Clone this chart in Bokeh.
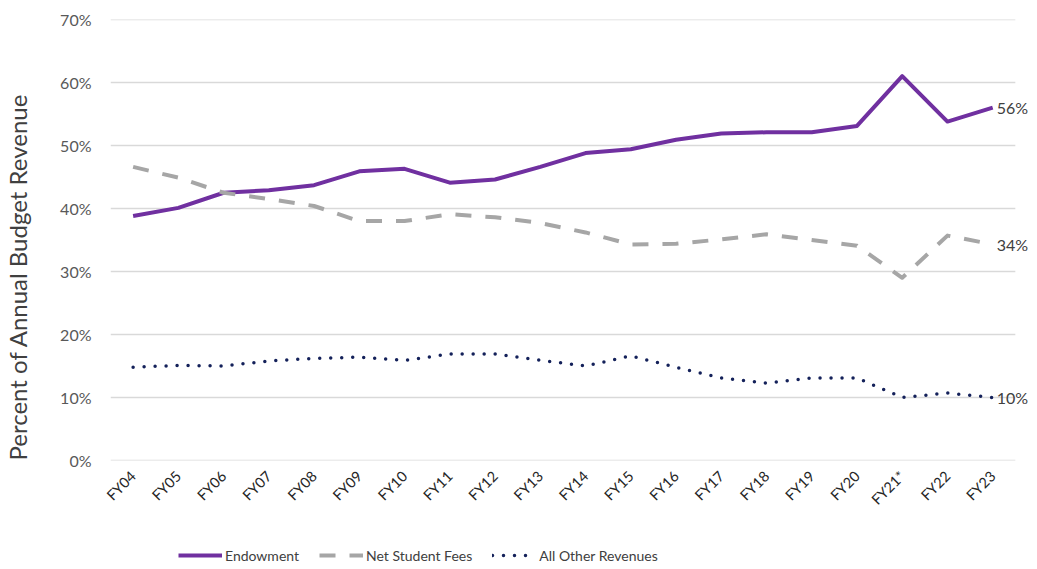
from bokeh.plotting import figure
from bokeh.layouts import column, row
from bokeh.models import (Range1d, Legend, LegendItem, Label,
                          CustomJSTickFormatter, FixedTicker)
from bokeh.embed import file_html
from bokeh.resources import INLINE
import math

years = ["FY04", "FY05", "FY06", "FY07", "FY08", "FY09", "FY10", "FY11", "FY12", "FY13",
         "FY14", "FY15", "FY16", "FY17", "FY18", "FY19", "FY20", "FY21*", "FY22", "FY23"]
endowment = [38.8, 40.1, 42.5, 42.9, 43.7, 45.9, 46.3, 44.1, 44.6, 46.6,
             48.8, 49.4, 50.9, 51.9, 52.1, 52.1, 53.1, 61.0, 53.8, 56.0]
student_fees = [46.6, 44.9, 42.5, 41.5, 40.4, 38.0, 38.0, 39.1, 38.6, 37.7,
                36.2, 34.3, 34.4, 35.1, 35.9, 35.0, 34.1, 29.0, 35.7, 34.3]
other = [14.8, 15.1, 15.0, 15.8, 16.2, 16.4, 15.9, 16.9, 16.9, 15.9,
         15.0, 16.6, 14.8, 13.1, 12.3, 13.1, 13.1, 10.0, 10.7, 10.0]
y_ticks = [0, 10, 20, 30, 40, 50, 60, 70]
y_title = "Percent of Annual Budget Revenue"
series_names = ["Endowment", "Net Student Fees", "All Other Revenues"]

FONT = "Lato"
xs = list(range(len(years)))

STYLES = [
    dict(line_color="#7030A0", line_width=4, line_join="round"),
    dict(line_color="#A6A6A6", line_width=4, line_dash="16 14", line_join="round"),
    dict(line_color="#14215A", line_width=3.5, line_dash="0 11", line_cap="round",
         line_join="round"),
]
SERIES = [endowment, student_fees, other]

# ---- title strip (left) ----
tfig = figure(width=34, height=529, x_range=Range1d(0, 1), y_range=Range1d(0, 70),
              output_backend="svg", toolbar_location=None, min_border_left=0,
              min_border_right=0, min_border_top=0, min_border_bottom=69,
              x_axis_location=None, y_axis_location=None)
tfig.outline_line_color = None
tfig.xgrid.grid_line_color = None
tfig.ygrid.grid_line_color = None
tfig.add_layout(Label(x=17, y=0, x_units="screen", y_units="screen", angle=math.pi / 2,
                      text=y_title, text_font=FONT, text_font_size="24px",
                      text_color="#404040", text_align="left", text_baseline="middle"))

# ---- main plot ----
p = figure(width=1003, height=529, x_range=Range1d(-0.5, len(years) - 0.01),
           y_range=Range1d(0, 70), output_backend="svg", toolbar_location=None,
           min_border_left=76, min_border_right=0, min_border_top=19, min_border_bottom=69)
p.outline_line_color = None
p.background_fill_color = "white"
p.border_fill_color = "white"
p.xgrid.grid_line_color = None
p.ygrid.grid_line_color = None

p.segment(x0=-0.5, x1=len(years) - 0.5, y0=y_ticks, y1=y_ticks,
          line_color="#D9D9D9", line_width=1.5)

p.yaxis.ticker = FixedTicker(ticks=y_ticks)
p.yaxis.formatter = CustomJSTickFormatter(code="return tick.toFixed(0) + '%';")
p.yaxis.axis_line_color = None
p.yaxis.major_tick_line_color = None
p.yaxis.major_tick_out = 0
p.yaxis.minor_tick_line_color = None
p.yaxis.major_label_text_font = FONT
p.yaxis.major_label_text_font_size = "16px"
p.yaxis.major_label_text_color = "#595959"
p.yaxis.major_label_standoff = 19

p.xaxis.ticker = FixedTicker(ticks=xs)
p.xaxis.major_label_overrides = {i: y for i, y in zip(xs, years)}
p.xaxis.axis_line_color = None
p.xaxis.major_tick_line_color = None
p.xaxis.major_tick_out = 0
p.xaxis.minor_tick_line_color = None
p.xaxis.major_label_orientation = 0.785398
p.xaxis.major_label_text_font = FONT
p.xaxis.major_label_text_font_size = "14.5px"
p.xaxis.major_label_text_color = "#262626"
p.xaxis.major_label_standoff = 13

for s, st in zip(SERIES, STYLES):
    p.line(xs, s, **st)
    p.add_layout(Label(x=xs[-1], y=s[-1], x_offset=4, text=f"{round(s[-1])}%",
                       text_font=FONT, text_font_size="16px", text_color="#404040",
                       text_baseline="middle", text_align="left"))

# ---- legend strip (series drawn out of view, only their legend glyphs show) ----
lg = figure(width=1037, height=40, x_range=Range1d(0, 1), y_range=Range1d(0, 1),
            output_backend="svg", toolbar_location=None, min_border=0,
            x_axis_location=None, y_axis_location=None)
lg.outline_line_color = None
lg.xgrid.grid_line_color = None
lg.ygrid.grid_line_color = None
items = []
for name, s, st in zip(series_names, SERIES, STYLES):
    r = lg.line(xs, s, **st)
    items.append(LegendItem(label=name, renderers=[r]))
legend = Legend(items=items, orientation="horizontal", location=(178, 5), glyph_width=44,
                glyph_height=16, label_standoff=3, spacing=20, padding=0, margin=0,
                border_line_color=None, background_fill_alpha=0, label_text_font=FONT,
                label_text_font_size="14px", label_text_color="#404040", label_height=18)
lg.add_layout(legend)

layout = column(row(tfig, p, spacing=0), lg, spacing=0)
open("out.html", "w").write(file_html(layout, INLINE))
